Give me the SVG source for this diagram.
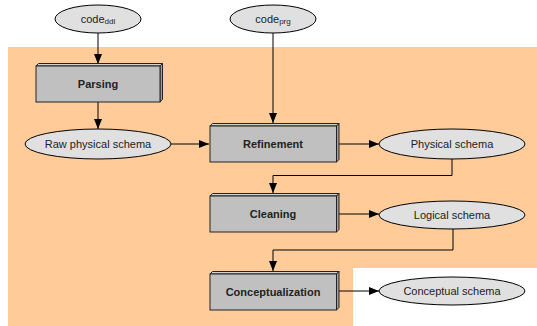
<svg xmlns="http://www.w3.org/2000/svg" width="537" height="326" viewBox="0 0 537 326">
  <defs>
    <marker id="arrow" markerWidth="10" markerHeight="8" refX="10" refY="4" orient="auto" markerUnits="userSpaceOnUse">
      <path d="M0,0 L10,4 L0,8 Z" fill="#000"/>
    </marker>
  </defs>
  <style>
    .bg { fill: #FFCC99; }
    .front { fill: #C0C0C0; stroke: #222; stroke-width: 1; }
    .top { fill: #D4D4D4; stroke: #222; stroke-width: 1; }
    .side { fill: #A0A0A0; stroke: #222; stroke-width: 1; }
    .oval { fill: #E0E0E0; stroke: #000; stroke-width: 1; }
    .conn { fill: none; stroke: #000; stroke-width: 1; marker-end: url(#arrow); }
    .proc { font-family: "Liberation Sans", Arial, sans-serif; font-size: 11px; font-weight: bold; fill: #222; text-anchor: middle; }
    .data { font-family: "Liberation Sans", Arial, sans-serif; font-size: 11px; fill: #222; text-anchor: middle; }
    .sub { font-size: 8px; }
  </style>

  <!-- shaded background region -->
  <path class="bg" d="M8,47 H537 V268 H353 V326 H8 Z"/>

  <!-- connectors -->
  <g id="connectors">
    <path class="conn" d="M98,33 V64"/>
    <path class="conn" d="M98,102 V129"/>
    <path class="conn" d="M273,33 V123"/>
    <path class="conn" d="M171,144 H209"/>
    <path class="conn" d="M339,144 H379"/>
    <path class="conn" d="M452,159 V175.5 H273 V193"/>
    <path class="conn" d="M339,214 H379"/>
    <path class="conn" d="M453,229 V250 H273 V271"/>
    <path class="conn" d="M339,291 H379"/>
  </g>

  <!-- inputs -->
  <g id="code-ddl">
    <ellipse class="oval" cx="98" cy="19" rx="43" ry="14"/>
    <text class="data" x="98" y="23">code<tspan class="sub" dy="1">ddl</tspan></text>
  </g>
  <g id="code-prg">
    <ellipse class="oval" cx="273" cy="19" rx="43" ry="14"/>
    <text class="data" x="273" y="23">code<tspan class="sub" dy="1">prg</tspan></text>
  </g>

  <!-- processes -->
  <g id="parsing">
    <polygon class="top" points="36,66 38.5,63.5 162.5,63.5 160,66"/>
    <polygon class="side" points="160,66 162.5,63.5 162.5,99.5 160,102"/>
    <rect class="front" x="36" y="66" width="124" height="36"/>
    <text class="proc" x="98" y="88">Parsing</text>
  </g>
  <g id="refinement">
    <polygon class="top" points="210,126 212.5,123.5 339,123.5 336.5,126"/>
    <polygon class="side" points="336.5,126 339,123.5 339,159.5 336.5,162"/>
    <rect class="front" x="210" y="126" width="126.5" height="36"/>
    <text class="proc" x="273" y="147.5">Refinement</text>
  </g>
  <g id="cleaning">
    <polygon class="top" points="210,196 212.5,193.5 339,193.5 336.5,196"/>
    <polygon class="side" points="336.5,196 339,193.5 339,229.5 336.5,232"/>
    <rect class="front" x="210" y="196" width="126.5" height="36"/>
    <text class="proc" x="273" y="217.5">Cleaning</text>
  </g>
  <g id="conceptualization">
    <polygon class="top" points="210,274 212.5,271.5 339,271.5 336.5,274"/>
    <polygon class="side" points="336.5,274 339,271.5 339,307.5 336.5,310"/>
    <rect class="front" x="210" y="274" width="126.5" height="36"/>
    <text class="proc" x="273" y="295.5">Conceptualization</text>
  </g>

  <!-- schemas -->
  <g id="raw-physical-schema">
    <ellipse class="oval" cx="98" cy="144" rx="73" ry="15"/>
    <text class="data" x="98" y="148">Raw physical schema</text>
  </g>
  <g id="physical-schema">
    <ellipse class="oval" cx="452" cy="144" rx="73" ry="15"/>
    <text class="data" x="452" y="148">Physical schema</text>
  </g>
  <g id="logical-schema">
    <ellipse class="oval" cx="452" cy="215" rx="73" ry="14"/>
    <text class="data" x="452" y="219">Logical schema</text>
  </g>
  <g id="conceptual-schema">
    <ellipse class="oval" cx="452" cy="291" rx="73" ry="14"/>
    <text class="data" x="452" y="295">Conceptual schema</text>
  </g>
</svg>
